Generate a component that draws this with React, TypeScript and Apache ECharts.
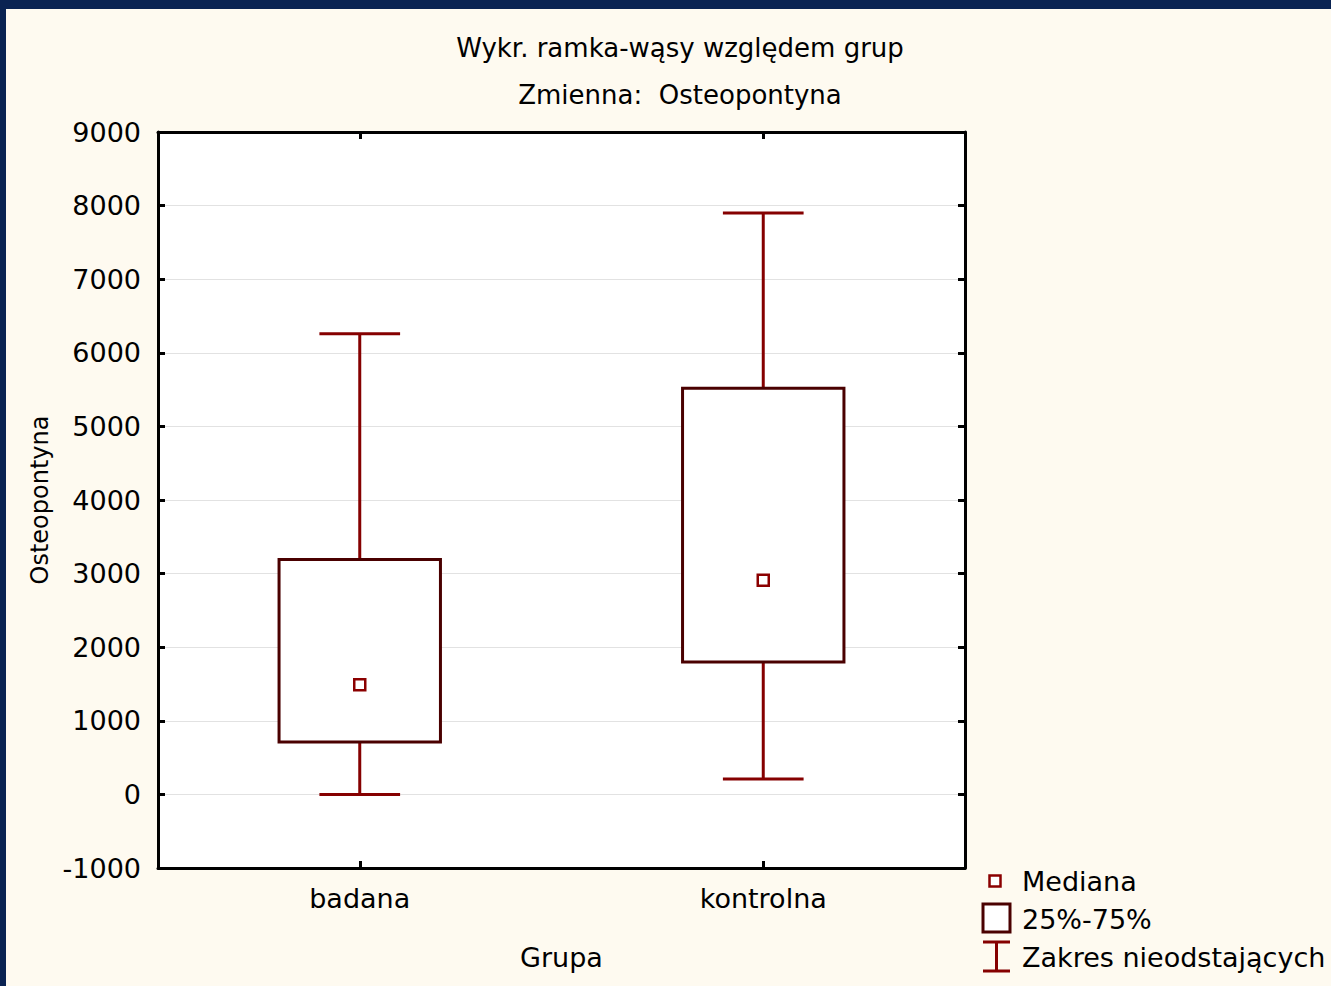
import React, { useEffect, useRef } from "react";
import * as echarts from "echarts";

const categories = ["badana", "kontrolna"];
// [min (non-outlier), Q1, median, Q3, max (non-outlier)]
const whiskerMin = [0, 210];
const q1Values = [712, 1800];
const medianValues = [1490, 2910];
const q3Values = [3190, 5520];
const whiskerMax = [6260, 7900];
const yTicks = { min: -1000, max: 9000, interval: 1000 };

const titleLines = ["Wykr. ramka-wąsy względem grup", "Zmienna:  Osteopontyna"];
const legendLabels = ["Mediana", "25%-75%", "Zakres nieodstających"];

const FONT = "DejaVu Sans";
const WHISKER = "#850000";
const BOXC = "#4a0000";

export default function App() {
  const ref = useRef<HTMLDivElement>(null);
  useEffect(() => {
    document.body.style.margin = "0";
    if (!ref.current) return;
    const chart = echarts.init(ref.current, undefined, { renderer: "svg" });
    const boxData = categories.map((_, i) => [
      i,
      whiskerMin[i],
      q1Values[i],
      medianValues[i],
      q3Values[i],
      whiskerMax[i],
    ]);
    const axisLine = { show: true, onZero: false, lineStyle: { color: "#000", width: 3 } };
    const tick = { show: true, inside: true, length: 7, lineStyle: { color: "#000", width: 3 } };
    const option: any = {
      animation: false,
      backgroundColor: "#fefaf0",
      textStyle: { fontFamily: FONT },
      grid: {
        left: 152,
        right: 366,
        top: 123,
        bottom: 118,
        show: true,
        backgroundColor: "#ffffff",
        borderWidth: 0,
      },
      xAxis: [
        {
          type: "category",
          data: categories,
          position: "bottom",
          axisLine,
          axisTick: { ...tick, alignWithLabel: true },
          axisLabel: { color: "#000", fontSize: 27, fontFamily: FONT, margin: 17 },
          name: "Grupa",
          nameLocation: "middle",
          nameGap: 76,
          nameTextStyle: { color: "#000", fontSize: 27, fontFamily: FONT },
          splitLine: { show: false },
        },
        {
          type: "category",
          data: categories,
          position: "top",
          axisLine,
          axisTick: { ...tick, alignWithLabel: true },
          axisLabel: { show: false },
          splitLine: { show: false },
        },
      ],
      yAxis: [
        {
          type: "value",
          min: yTicks.min,
          max: yTicks.max,
          interval: yTicks.interval,
          position: "left",
          axisLine,
          axisTick: tick,
          axisLabel: {
            color: "#000",
            fontSize: 27,
            fontFamily: FONT,
            margin: 17,
            formatter: (v: number) => String(v),
          },
          splitLine: { show: true, lineStyle: { color: "#e2e2e2", width: 1 } },
          name: "Osteopontyna",
          nameLocation: "middle",
          nameGap: 97,
          nameTextStyle: { color: "#000", fontSize: 24, fontFamily: FONT },
        },
        {
          type: "value",
          min: yTicks.min,
          max: yTicks.max,
          interval: yTicks.interval,
          position: "right",
          axisLine,
          axisTick: tick,
          axisLabel: { show: false },
          splitLine: { show: false },
        },
      ],
      series: [
        {
          type: "custom",
          name: "box",
          data: boxData,
          z: 3,
          renderItem: (params: any, api: any) => {
            const idx = api.value(0);
            const band = api.size([1, 0])[0];
            const boxW = band * 0.4;
            const capW = band * 0.2;
            const pMin = api.coord([idx, api.value(1)]);
            const pQ1 = api.coord([idx, api.value(2)]);
            const pQ3 = api.coord([idx, api.value(4)]);
            const pMax = api.coord([idx, api.value(5)]);
            const x = pMin[0];
            const wStyle = { stroke: WHISKER, lineWidth: 3 };
            return {
              type: "group",
              children: [
                { type: "line", shape: { x1: x, y1: pQ3[1], x2: x, y2: pMax[1] }, style: wStyle },
                { type: "line", shape: { x1: x, y1: pMin[1], x2: x, y2: pQ1[1] }, style: wStyle },
                { type: "line", shape: { x1: x - capW / 2, y1: pMax[1], x2: x + capW / 2, y2: pMax[1] }, style: wStyle },
                { type: "line", shape: { x1: x - capW / 2, y1: pMin[1], x2: x + capW / 2, y2: pMin[1] }, style: wStyle },
                {
                  type: "rect",
                  shape: { x: x - boxW / 2, y: pQ3[1], width: boxW, height: pQ1[1] - pQ3[1] },
                  style: { fill: "#ffffff", stroke: BOXC, lineWidth: 3 },
                },
              ],
            };
          },
        },
        {
          type: "scatter",
          name: "Mediana",
          data: categories.map((c, i) => [c, medianValues[i]]),
          symbol: "rect",
          symbolSize: 11,
          z: 5,
          itemStyle: { color: "#ffffff", borderColor: "#8b0000", borderWidth: 2.5, opacity: 1 },
        },
      ],
      graphic: [
        {
          type: "text",
          x: 674,
          y: 39,
          style: { text: titleLines[0], fontSize: 26, fontFamily: FONT, fill: "#000", textAlign: "center", textVerticalAlign: "middle" },
        },
        {
          type: "text",
          x: 674,
          y: 86,
          style: { text: titleLines[1], fontSize: 26, fontFamily: FONT, fill: "#000", textAlign: "center", textVerticalAlign: "middle" },
        },
        // legend: median marker
        {
          type: "rect",
          shape: { x: 983.5, y: 866.5, width: 11, height: 11 },
          style: { fill: "#fff", stroke: "#8b0000", lineWidth: 2.5 },
        },
        {
          type: "text",
          x: 1016,
          y: 872,
          style: { text: legendLabels[0], fontSize: 27, fontFamily: FONT, fill: "#000", textAlign: "left", textVerticalAlign: "middle" },
        },
        // legend: box
        {
          type: "rect",
          shape: { x: 977, y: 895, width: 27, height: 28 },
          style: { fill: "#fff", stroke: BOXC, lineWidth: 3 },
        },
        {
          type: "text",
          x: 1016,
          y: 910,
          style: { text: legendLabels[1], fontSize: 27, fontFamily: FONT, fill: "#000", textAlign: "left", textVerticalAlign: "middle" },
        },
        // legend: whisker
        { type: "line", shape: { x1: 990.5, y1: 933, x2: 990.5, y2: 962 }, style: { stroke: WHISKER, lineWidth: 3 } },
        { type: "line", shape: { x1: 977, y1: 933, x2: 1004, y2: 933 }, style: { stroke: WHISKER, lineWidth: 3 } },
        { type: "line", shape: { x1: 977, y1: 962, x2: 1004, y2: 962 }, style: { stroke: WHISKER, lineWidth: 3 } },
        {
          type: "text",
          x: 1016,
          y: 948,
          style: { text: legendLabels[2], fontSize: 27, fontFamily: FONT, fill: "#000", textAlign: "left", textVerticalAlign: "middle" },
        },
      ],
    };
    chart.setOption(option);
    return () => chart.dispose();
  }, []);
  return (
    <div style={{ width: 1331, height: 986, background: "#0a2352", position: "relative", overflow: "hidden" }}>
      <div ref={ref} style={{ position: "absolute", left: 6, top: 9, width: 1325, height: 977 }} />
    </div>
  );
}
